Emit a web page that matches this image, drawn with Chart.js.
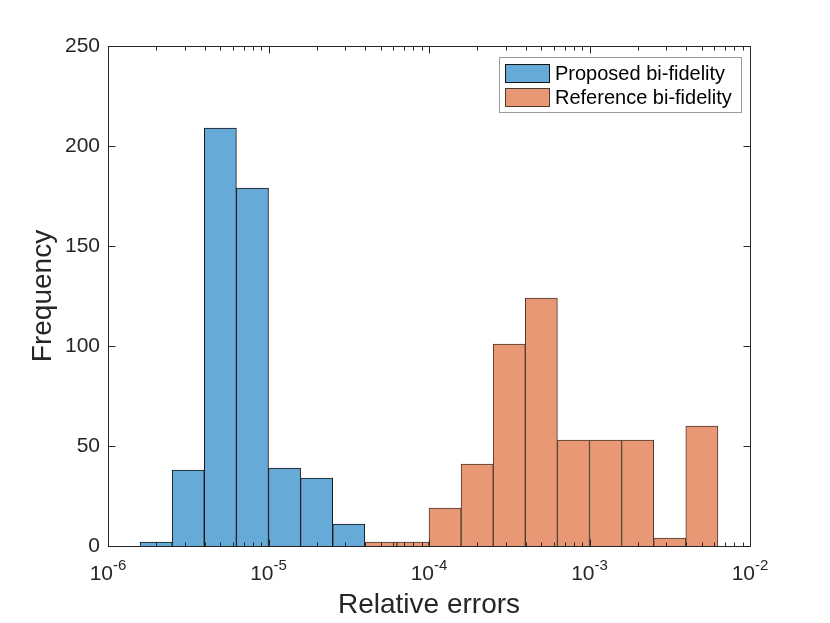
<!DOCTYPE html>
<html lang="en">
<head>
<meta charset="UTF-8">
<title>Relative errors histogram</title>
<style>
  html, body { margin: 0; padding: 0; background: #fff; }
  #wrap { width: 830px; height: 623px; }
</style>
</head>
<body>
<div id="wrap"><canvas id="histChart"></canvas></div>
<script src="https://cdn.jsdelivr.net/npm/chart.js"></script>
<script>
// bins are given by their lower edge in log10(relative error), 0.2 decade wide
const binWidth = 0.2;
const proposedEdges = [-5.8, -5.6, -5.4, -5.2, -5.0, -4.8, -4.6];
const proposedCounts = [2, 38, 209, 179, 39, 34, 11];
const referenceEdges = [-4.4, -4.2, -4.0, -3.8, -3.6, -3.4, -3.2, -3.0, -2.8, -2.6, -2.4];
const referenceCounts = [2, 2, 19, 41, 101, 124, 53, 53, 53, 4, 60];
const xTickExponents = [-6, -5, -4, -3, -2];
const yTicks = [0, 50, 100, 150, 200, 250];

const FONT = '"Liberation Sans", Arial, Helvetica, sans-serif';
const AXIS_COLOR = '#262626';

function toPoints(edges, counts) {
    return edges.map((e, i) => ({ x: e + binWidth / 2, y: counts[i] }));
}

// MATLAB-like box: inside ticks on all four sides, 10^n labels, legend box
const axesBox = {
    id: 'axesBox',
    afterDraw(chart) {
        const { ctx, chartArea: a, scales: { x, y } } = chart;
        const px = v => Math.round(x.getPixelForValue(v)) + 0.5;
        const py = v => Math.round(y.getPixelForValue(v)) + 0.5;
        const top = Math.round(a.top) + 0.5, bottom = Math.round(a.bottom) + 0.5;
        const left = Math.round(a.left) + 0.5, right = Math.round(a.right) + 0.5;

        ctx.save();
        ctx.strokeStyle = AXIS_COLOR;
        ctx.lineWidth = 1;
        ctx.beginPath();
        // x ticks (major at decades, minor at 2..9)
        for (let d = xTickExponents[0]; d <= xTickExponents[xTickExponents.length - 1]; d++) {
            for (let k = 1; k <= 9; k++) {
                const v = d + Math.log10(k);
                if (v > x.max + 1e-9) break;
                const len = k === 1 ? 7 : 4;
                const xp = px(v);
                ctx.moveTo(xp, bottom); ctx.lineTo(xp, bottom - len);
                ctx.moveTo(xp, top); ctx.lineTo(xp, top + len);
            }
        }
        // y ticks
        yTicks.forEach(v => {
            const yp = py(v);
            ctx.moveTo(left, yp); ctx.lineTo(left + 7, yp);
            ctx.moveTo(right, yp); ctx.lineTo(right - 7, yp);
        });
        ctx.stroke();
        ctx.strokeRect(left, top, right - left, bottom - top);

        // x tick labels as 10 with raised exponent
        ctx.fillStyle = AXIS_COLOR;
        ctx.textBaseline = 'alphabetic';
        ctx.textAlign = 'left';
        xTickExponents.forEach(e => {
            const base = '10', exp = String(e);
            ctx.font = '21px ' + FONT;
            const w1 = ctx.measureText(base).width;
            ctx.font = '15px ' + FONT;
            const w2 = ctx.measureText(exp).width;
            const x0 = x.getPixelForValue(e) - (w1 + w2) / 2;
            ctx.font = '21px ' + FONT;
            ctx.fillText(base, x0, 580);
            ctx.font = '15px ' + FONT;
            ctx.fillText(exp, x0 + w1, 570);
        });

        // legend
        const lx = 499.5, ly = 57.5, lw = 242, lh = 55;
        ctx.fillStyle = '#fff';
        ctx.fillRect(lx, ly, lw, lh);
        ctx.strokeStyle = '#9a9a9a';
        ctx.strokeRect(lx, ly, lw, lh);
        chart.data.datasets.forEach((ds, i) => {
            const sy = 64.5 + i * 24;
            ctx.fillStyle = ds.backgroundColor;
            ctx.fillRect(505.5, sy, 44, 18);
            ctx.strokeStyle = ds.borderColor;
            ctx.strokeRect(505.5, sy, 44, 18);
            ctx.fillStyle = '#000';
            ctx.font = '20px ' + FONT;
            ctx.fillText(ds.label, 555, 80 + i * 24);
        });
        ctx.restore();
    }
};

const ctx = document.getElementById('histChart').getContext('2d');
const histChart = new Chart(ctx, {
    type: 'bar',
    data: {
        datasets: [{
            label: 'Proposed bi-fidelity',
            data: toPoints(proposedEdges, proposedCounts),
            backgroundColor: '#66AAD8',
            borderColor: '#151515',
            borderWidth: 1
        }, {
            label: 'Reference bi-fidelity',
            data: toPoints(referenceEdges, referenceCounts),
            backgroundColor: '#E89875',
            borderColor: '#4d3a30',
            borderWidth: 1
        }]
    },
    options: {
        responsive: true,
        maintainAspectRatio: false,
        animation: false,
        grouped: false,
        barPercentage: 1,
        categoryPercentage: 1,
        layout: { padding: { top: 46, right: 80 } },
        plugins: {
            legend: { display: false },
            tooltip: { enabled: false }
        },
        scales: {
            x: {
                type: 'linear',
                min: xTickExponents[0],
                max: xTickExponents[xTickExponents.length - 1],
                offset: false,
                grid: { display: false, drawTicks: false },
                border: { display: false },
                ticks: { display: false },
                title: {
                    display: true,
                    text: 'Relative errors',
                    color: AXIS_COLOR,
                    font: { size: 28, family: FONT },
                    padding: { top: 0, bottom: 1 }
                },
                afterFit(s) { s.height = 77; }
            },
            y: {
                min: yTicks[0],
                max: yTicks[yTicks.length - 1],
                afterBuildTicks(s) { s.ticks = yTicks.map(v => ({ value: v })); },
                ticks: { color: AXIS_COLOR, font: { size: 21, family: FONT }, padding: 8 },
                grid: { display: false, drawTicks: false },
                border: { display: false },
                title: {
                    display: true,
                    text: 'Frequency',
                    color: AXIS_COLOR,
                    font: { size: 28, family: FONT },
                    padding: { top: 26, bottom: 0 }
                },
                afterFit(s) { s.width = 108; }
            }
        }
    },
    plugins: [axesBox]
});
</script>
</body>
</html>
